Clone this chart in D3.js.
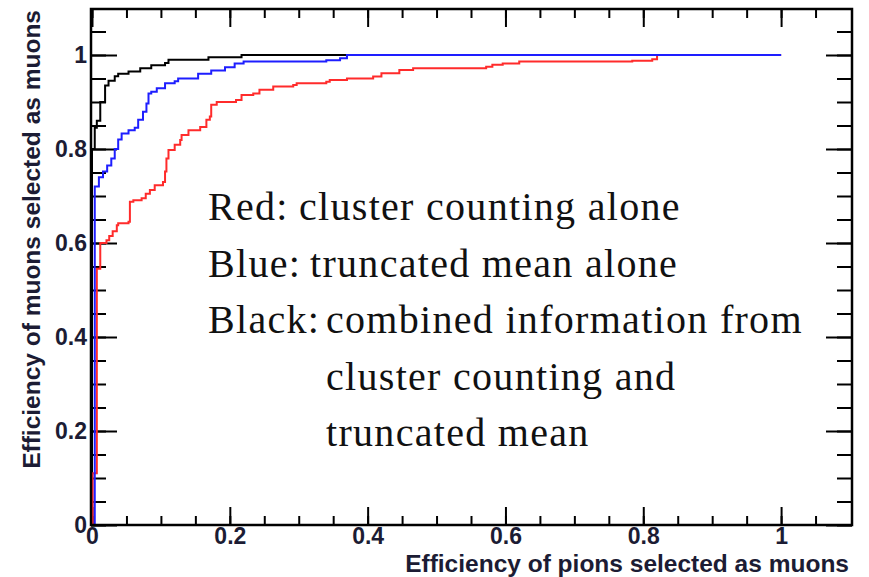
<!DOCTYPE html>
<html>
<head>
<meta charset="utf-8">
<script src="https://cdn.jsdelivr.net/npm/d3@7"></script>
<style>
  body { margin: 0; background: #fff; }
  .tick text { font-family: "Liberation Sans", Arial, sans-serif; font-weight: bold; font-size: 23px; fill: #1c1c34; }
  .tick line { stroke: #000; stroke-width: 2; }
  .title { font-family: "Liberation Sans", Arial, sans-serif; font-weight: bold; font-size: 24.5px; fill: #1c1c34; }
  .note { font-family: "Liberation Serif", "Times New Roman", serif; font-size: 40px; letter-spacing: 1.3px; fill: #111; }
</style>
</head>
<body>
<div id="chart-area"></div>
<script>
// ROC curves: [pion efficiency, muon efficiency]
const redPts = [
  [0, 0], [0.001, 0.11], [0.007, 0.545], [0.012, 0.60], [0.021, 0.606], [0.025, 0.615],
  [0.03, 0.625], [0.036, 0.638], [0.038, 0.642], [0.053, 0.645], [0.055, 0.688],
  [0.06, 0.691], [0.072, 0.695], [0.078, 0.705], [0.084, 0.713], [0.091, 0.723],
  [0.103, 0.73], [0.106, 0.752], [0.108, 0.78], [0.111, 0.798], [0.12, 0.809],
  [0.128, 0.819], [0.13, 0.83], [0.14, 0.84], [0.157, 0.847], [0.166, 0.862],
  [0.171, 0.869], [0.173, 0.894], [0.181, 0.90], [0.209, 0.904], [0.217, 0.915],
  [0.234, 0.918], [0.243, 0.926], [0.263, 0.933], [0.292, 0.936], [0.297, 0.94],
  [0.34, 0.943], [0.345, 0.947], [0.37, 0.95], [0.408, 0.954], [0.42, 0.961],
  [0.446, 0.968], [0.466, 0.972], [0.572, 0.975], [0.581, 0.979], [0.596, 0.982],
  [0.62, 0.986], [0.784, 0.988], [0.813, 0.991], [0.82, 1.0], [1.0, 1.0]
]

const bluePts = [
  [0, 0], [0.004, 0.72], [0.01, 0.74], [0.016, 0.752], [0.022, 0.765], [0.028, 0.78],
  [0.033, 0.80], [0.038, 0.82], [0.043, 0.833], [0.053, 0.84], [0.062, 0.845],
  [0.067, 0.862], [0.074, 0.879], [0.079, 0.897], [0.082, 0.918], [0.086, 0.922],
  [0.094, 0.929], [0.106, 0.94], [0.12, 0.944], [0.125, 0.95], [0.154, 0.96],
  [0.173, 0.967], [0.193, 0.974], [0.207, 0.982], [0.22, 0.986], [0.34, 0.989],
  [0.36, 0.993], [0.37, 1.0], [1.0, 1.0]
]

const blackPts = [
  [0, 0], [0, 0.80], [0.004, 0.845], [0.007, 0.86], [0.012, 0.90], [0.019, 0.935],
  [0.024, 0.945], [0.033, 0.955], [0.038, 0.96], [0.053, 0.965], [0.07, 0.972],
  [0.086, 0.978], [0.106, 0.983], [0.111, 0.99], [0.169, 0.995], [0.217, 1.0], [1.0, 1.0]
]

const xTickValues = [0, 0.2, 0.4, 0.6, 0.8, 1]
const xTickLabels = ["0", "0.2", "0.4", "0.6", "0.8", "1"]
const yTickValues = [0, 0.2, 0.4, 0.6, 0.8, 1]
const yTickLabels = ["0", "0.2", "0.4", "0.6", "0.8", "1"]

const noteLines = [
  { label: "Red:", body: "cluster counting alone" },
  { label: "Blue:", body: "truncated mean alone" },
  { label: "Black:", body: "combined information from" },
  { label: "", body: "cluster counting and" },
  { label: "", body: "truncated mean" }
]

const W = 869, H = 577
const FRAME = { LEFT: 91, RIGHT: 852, TOP: 9, BOTTOM: 525 }

const svg = d3.select("#chart-area").append("svg")
  .attr("width", W)
  .attr("height", H)

const x = d3.scaleLinear().domain([0, 1.1]).range([92, 850])
const y = d3.scaleLinear().domain([0, 1.1]).range([525, 8])

const minor = d3.range(0, 1.1, 0.05)

// axes: ROOT style ticks drawn inward on all four sides
function axisGroup(axis, tx, ty) {
  const g = svg.append("g").attr("transform", `translate(${tx},${ty})`).call(axis)
  g.select(".domain").remove()
  return g
}

axisGroup(d3.axisBottom(x).tickValues(minor).tickSize(-9).tickFormat(""), 0, FRAME.BOTTOM)
axisGroup(d3.axisBottom(x).tickValues(xTickValues).tickSize(-18).tickPadding(3)
  .tickFormat((d, i) => xTickLabels[i]), 0, FRAME.BOTTOM)
axisGroup(d3.axisTop(x).tickValues(minor).tickSize(-9).tickFormat(""), 0, FRAME.TOP)
axisGroup(d3.axisTop(x).tickValues(xTickValues).tickSize(-18).tickFormat(""), 0, FRAME.TOP)

axisGroup(d3.axisLeft(y).tickValues(minor).tickSize(-15).tickFormat(""), FRAME.LEFT, 0)
axisGroup(d3.axisLeft(y).tickValues(yTickValues).tickSize(-26).tickPadding(4)
  .tickFormat((d, i) => yTickLabels[i]), FRAME.LEFT, 0)
axisGroup(d3.axisRight(y).tickValues(minor).tickSize(-15).tickFormat(""), FRAME.RIGHT, 0)
axisGroup(d3.axisRight(y).tickValues(yTickValues).tickSize(-26).tickFormat(""), FRAME.RIGHT, 0)

svg.selectAll(".tick text").attr("fill", null)

// curves
const line = d3.line()
  .x(d => x(d[0]))
  .y(d => y(d[1]))
  .curve(d3.curveStepAfter)

const curves = [
  { pts: blackPts, color: "#000000" },
  { pts: redPts, color: "#ff2b2b" },
  { pts: bluePts, color: "#1e1eff" }
]

svg.selectAll("path.curve").data(curves).enter()
  .append("path")
  .attr("class", "curve")
  .attr("d", d => line(d.pts))
  .attr("fill", "none")
  .attr("stroke", d => d.color)
  .attr("stroke-width", 2)

// frame
svg.append("rect")
  .attr("x", FRAME.LEFT)
  .attr("y", FRAME.TOP)
  .attr("width", FRAME.RIGHT - FRAME.LEFT)
  .attr("height", FRAME.BOTTOM - FRAME.TOP)
  .attr("fill", "none")
  .attr("stroke", "#000")
  .attr("stroke-width", 2.5)

// axis titles
svg.append("text")
  .attr("class", "title")
  .attr("x", 849)
  .attr("y", 572)
  .attr("text-anchor", "end")
  .text("Efficiency of pions selected as muons")

svg.append("text")
  .attr("class", "title")
  .attr("transform", "translate(40,10) rotate(-90)")
  .attr("text-anchor", "end")
  .text("Efficiency of muons selected as muons")

// annotation
const bodyX = [299, 310, 326, 326, 326]
const note = svg.selectAll("text.note").data(noteLines).enter()
  .append("text")
  .attr("class", "note")
  .attr("y", (d, i) => 220 + i * 56.5)

note.append("tspan").attr("x", 208).text(d => d.label)
note.append("tspan").attr("x", (d, i) => bodyX[i]).text(d => d.body)
</script>
</body>
</html>
